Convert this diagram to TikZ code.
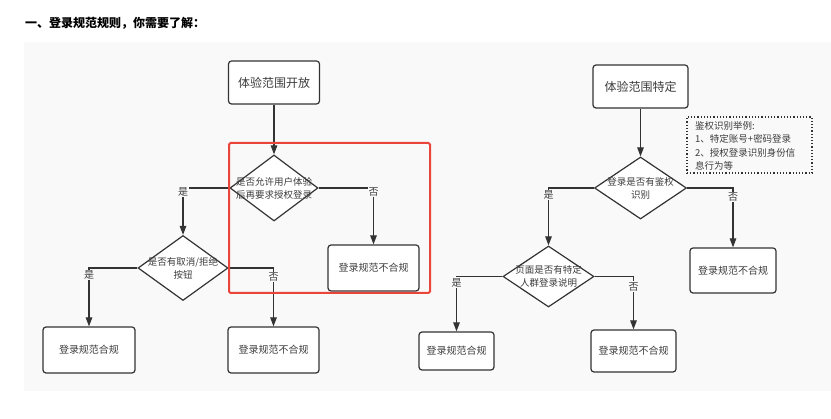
\documentclass[tikz,border=0pt]{standalone}
\usepackage{fontspec}
\setmainfont{Noto Sans CJK SC}
\usetikzlibrary{shapes.geometric,arrows.meta}
\definecolor{panel}{HTML}{F9F9F9}
\definecolor{linec}{HTML}{333333}
\definecolor{txt}{HTML}{3C3C3C}
\definecolor{redbox}{HTML}{E9453B}
\tikzset{
  fs/.style={font=\fontsize{#1}{14}\selectfont},
  box/.style={draw=linec, line width=1.2pt, rounded corners=3pt, fill=white, text=txt, inner sep=0pt, fs=10},
  dia/.style={draw=linec, line width=1.2pt, diamond, fill=white, inner sep=0pt},
  diatext/.style={align=center, text=txt, inner sep=0pt, font=\fontsize{9.5}{13}\selectfont},
  arr/.style={draw=linec, line width=1.2pt, -{Triangle[length=9pt,width=6.5pt]}},
  lbl/.style={fill=panel, inner sep=1pt, text=txt, fs=10},
}
\begin{document}
\begin{tikzpicture}[x=1pt,y=-1pt]
\useasboundingbox (0,0) rectangle (831,419);
\fill[white] (0,0) rectangle (831,419);
\fill[panel] (24,42) rectangle (831,391);
\node[anchor=west, inner sep=0pt, font=\fontsize{12}{14}\selectfont\bfseries] (title) at (25,23) {一、登录规范规则，你需要了解：};

% left flow
\node[box, fs=12, minimum width=91pt, minimum height=43pt] (b1) at (274,82.5) {体验范围开放};
\node[dia, minimum width=88pt, minimum height=66pt] (d1) at (274,188) {};
\node[diatext] (d1t) at (d1) {是否允许用户体验\\后再要求授权登录};
\node[box, minimum width=91pt, minimum height=46pt] (r1) at (373.5,268) {登录规范不合规};
\node[dia, minimum width=90pt, minimum height=65pt] (d2) at (183,268) {};
\node[diatext] (d2t) at (d2) {是否有取消/拒绝\\按钮};
\node[box, minimum width=92pt, minimum height=46pt] (bl1) at (89,350) {登录规范合规};
\node[box, minimum width=91pt, minimum height=46pt] (bl2) at (273.5,350) {登录规范不合规};

\draw[arr] (b1) -- (d1);
\draw[arr] (d1.west) -| node[lbl, pos=0.5, yshift=-4pt] {是} (d2.north);
\draw[arr] (d1.east) -| node[lbl, pos=0.5, yshift=-4pt] {否} (r1.north);
\draw[arr] (d2.west) -| node[lbl, pos=0.5, yshift=-7pt] {是} (bl1.north);
\draw[arr] (d2.east) -| node[lbl, pos=0.5, yshift=-9pt] {否} (bl2.north);

\draw[redbox, line width=2pt, rounded corners=1.5pt] (229,143) rectangle (430,293);

% right flow
\node[box, fs=12, minimum width=95pt, minimum height=43pt] (b2) at (640.5,86.5) {体验范围特定};
\node[dia, minimum width=92pt, minimum height=62pt] (d3) at (640.5,188) {};
\node[diatext] (d3t) at (d3) {登录是否有鉴权\\识别};
\node[draw=linec, line width=1.2pt, dotted, minimum width=125pt, minimum height=56pt, inner sep=0pt] (note) at (749.5,145) {};
\node[anchor=north west, align=left, inner sep=0pt, text=txt, font=\fontsize{9.5}{13.5}\selectfont] (notet) at (695,121) {鉴权识别举例:\\1、特定账号+密码登录\\2、授权登录识别身份信\\息行为等};
\node[box, minimum width=86pt, minimum height=45pt] (r2) at (733,270.5) {登录规范不合规};
\node[dia, minimum width=91pt, minimum height=61pt] (d4) at (548.5,276.5) {};
\node[diatext] (d4t) at (d4) {页面是否有特定\\人群登录说明};
\node[box, minimum width=75pt, minimum height=38pt] (br1) at (456.5,351) {登录规范合规};
\node[box, minimum width=85pt, minimum height=42pt] (br2) at (633.5,351) {登录规范不合规};

\draw[arr] (b2) -- (d3);
\draw[arr] (d3.west) -| node[lbl, pos=0.5, yshift=-7pt] {是} (d4.north);
\draw[arr] (d3.east) -| node[lbl, pos=0.5, yshift=-9pt] {否} (r2.north);
\draw[arr] (d4.west) -| node[lbl, pos=0.5, yshift=-6pt] {是} (br1.north);
\draw[arr] (d4.east) -| node[lbl, pos=0.5, yshift=-10pt] {否} (br2.north);
\end{tikzpicture}
\end{document}
